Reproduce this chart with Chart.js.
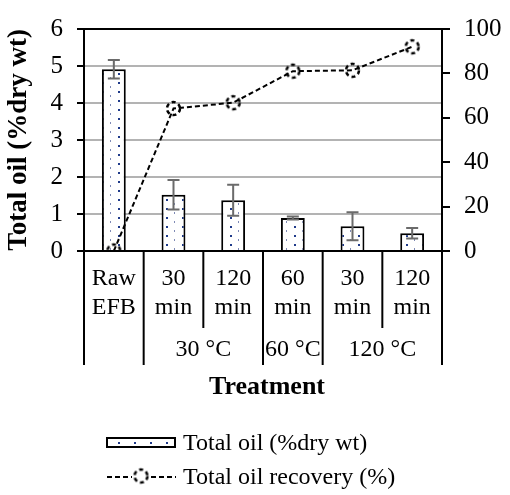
<!DOCTYPE html>
<html>
<head>
<meta charset="utf-8">
<script src="https://cdn.jsdelivr.net/npm/chart.js@4.4.0/dist/chart.umd.min.js"></script>
<style>
  html, body { margin: 0; padding: 0; background: #fff; }
  canvas { display: block; }
</style>
</head>
<body>
<canvas id="oilChart" width="510" height="495"></canvas>
<script>
// values
const tickLines = [['Raw', 'EFB'], ['30', 'min'], ['120', 'min'], ['60', 'min'], ['30', 'min'], ['120', 'min']];
const groupLabels = ['', '30 °C', '60 °C', '120 °C'];
const groupSizes = [1, 2, 1, 2];
const totalOil = [4.91, 1.52, 1.37, 0.89, 0.67, 0.48];
const totalOilErr = [0.25, 0.40, 0.42, 0.04, 0.38, 0.14];
const oilRecovery = [0, 64.2, 66.8, 81.0, 81.4, 92.0];
const leftTicks = [0, 1, 2, 3, 4, 5, 6];
const rightTicks = [0, 20, 40, 60, 80, 100];

const serif = "'Liberation Serif', 'Times New Roman', serif";
const canvas = document.getElementById('oilChart');
const ctx = canvas.getContext('2d');

// dotted fill for the bars
function dotPattern() {
    const c = document.createElement('canvas');
    c.width = 16;
    c.height = 9;
    const g = c.getContext('2d');
    g.fillStyle = '#fff';
    g.fillRect(0, 0, 16, 9);
    g.fillStyle = '#1f3a8a';
    g.fillRect(6, 1, 2, 2);
    g.fillStyle = '#7f8ab5';
    g.fillRect(14, 5, 1, 2);
    return ctx.createPattern(c, 'repeat');
}

// dashed ring marker
function ringMarker(r) {
    const c = document.createElement('canvas');
    c.width = 2 * r + 6;
    c.height = 2 * r + 6;
    const g = c.getContext('2d');
    g.strokeStyle = '#000';
    g.lineWidth = 2.5;
    g.setLineDash([4, 3]);
    g.beginPath();
    g.arc(c.width / 2, c.height / 2, r, 0, Math.PI * 2);
    g.stroke();
    return c;
}

const barFill = dotPattern();
const marker = ringMarker(6.5);

const treatmentAxis = {
    id: 'treatmentAxis',
    afterDatasetsDraw(chart) {
        // error bars
        const x = chart.scales.x, y = chart.scales.y;
        const c = chart.ctx;
        c.save();
        c.strokeStyle = '#6b6b6b';
        c.lineWidth = 2;
        totalOil.forEach((v, i) => {
            const px = x.getPixelForValue(i);
            const top = y.getPixelForValue(v + totalOilErr[i]);
            const bot = y.getPixelForValue(v - totalOilErr[i]);
            c.beginPath();
            c.moveTo(px, top); c.lineTo(px, bot);
            c.moveTo(px - 6, top); c.lineTo(px + 6, top);
            c.moveTo(px - 6, bot); c.lineTo(px + 6, bot);
            c.stroke();
        });
        c.restore();
    },
    afterDraw(chart) {
        const x = chart.scales.x;
        const c = chart.ctx;
        const base = chart.chartArea.bottom;
        const half = (x.getPixelForValue(1) - x.getPixelForValue(0)) / 2;
        const edge = i => x.getPixelForValue(i) - half;

        c.save();
        c.strokeStyle = '#000';
        c.lineWidth = 2;

        // group boundaries run deeper than the category ones
        const longAt = [0];
        groupSizes.forEach(n => longAt.push(longAt[longAt.length - 1] + n));
        for (let i = 0; i <= tickLines.length; i++) {
            const end = longAt.includes(i) ? base + 114 : base + 77;
            c.beginPath();
            c.moveTo(edge(i), base);
            c.lineTo(edge(i), end);
            c.stroke();
        }

        c.fillStyle = '#000';
        c.textAlign = 'center';
        c.textBaseline = 'middle';
        c.font = '24px ' + serif;
        tickLines.forEach((lines, i) => {
            const px = x.getPixelForValue(i);
            c.fillText(lines[0], px, base + 28);
            c.fillText(lines[1], px, base + 57);
        });

        let start = 0;
        groupLabels.forEach((lab, g) => {
            const mid = (edge(start) + edge(start + groupSizes[g])) / 2;
            if (lab) c.fillText(lab, mid, base + 99);
            start += groupSizes[g];
        });

        c.font = 'bold 26px ' + serif;
        c.fillText('Treatment', (chart.chartArea.left + chart.chartArea.right) / 2 + 4, base + 136);

        // legend
        const bars = chart.data.datasets[1];
        const line = chart.data.datasets[0];
        c.font = '24px ' + serif;
        c.textAlign = 'left';
        c.fillStyle = barFill;
        c.fillRect(107, 438, 68, 9);
        c.lineWidth = 2;
        c.strokeRect(107, 438, 68, 9);
        c.fillStyle = '#000';
        c.fillText(bars.label, 183, 444);

        c.setLineDash([5, 3]);
        c.beginPath();
        c.moveTo(107, 477); c.lineTo(132, 477);
        c.moveTo(151, 477); c.lineTo(176, 477);
        c.stroke();
        c.setLineDash([]);
        c.drawImage(marker, 141 - marker.width / 2, 476 - marker.height / 2);
        c.fillText(line.label, 183, 478);
        c.restore();
    }
};

const oilChart = new Chart(ctx, {
    type: 'bar',
    data: {
        labels: tickLines.map(l => l.join(' ')),
        datasets: [
            {
                type: 'line',
                label: 'Total oil recovery (%)',
                data: oilRecovery,
                yAxisID: 'y2',
                borderColor: '#000',
                borderWidth: 2,
                borderDash: [5, 3],
                pointStyle: marker,
                pointRadius: 8,
                fill: false,
                tension: 0,
                order: 0
            },
            {
                label: 'Total oil (%dry wt)',
                data: totalOil,
                yAxisID: 'y',
                backgroundColor: barFill,
                borderColor: '#000',
                borderWidth: 2,
                barPercentage: 0.4,
                categoryPercentage: 1,
                order: 1
            }
        ]
    },
    options: {
        responsive: false,
        animation: false,
        layout: {
            padding: { top: 26, left: 0, right: 0, bottom: 0 }
        },
        plugins: {
            legend: { display: false },
            tooltip: { enabled: false }
        },
        scales: {
            x: {
                offset: true,
                grid: { display: false },
                border: { display: false },
                ticks: { display: false },
                afterFit: s => { s.height = 244; }
            },
            y: {
                position: 'left',
                min: 0,
                max: 6,
                afterBuildTicks: s => { s.ticks = leftTicks.map(v => ({ value: v })); },
                grid: {
                    color: c => (c.tick && (c.tick.value === 0 || c.tick.value === 6)) ? '#000' : '#b3b3b3',
                    lineWidth: 2,
                    tickColor: '#000',
                    tickLength: 7
                },
                border: { color: '#000', width: 2 },
                ticks: {
                    color: '#000',
                    padding: 14,
                    font: { family: serif, size: 25 }
                },
                title: {
                    display: true,
                    text: 'Total oil (%dry wt)',
                    color: '#000',
                    padding: { top: 3, bottom: 0 },
                    font: { family: serif, size: 27, weight: 'bold' }
                },
                afterFit: s => { s.width = 84; }
            },
            y2: {
                position: 'right',
                min: 0,
                max: 100,
                afterBuildTicks: s => { s.ticks = rightTicks.map(v => ({ value: v })); },
                grid: {
                    drawOnChartArea: false,
                    color: '#000',
                    tickColor: '#000',
                    tickLength: 8,
                    lineWidth: 2
                },
                border: { color: '#000', width: 2 },
                ticks: {
                    color: '#000',
                    padding: 14,
                    font: { family: serif, size: 25 }
                },
                afterFit: s => { s.width = 68; }
            }
        }
    },
    plugins: [treatmentAxis]
});
</script>
</body>
</html>
